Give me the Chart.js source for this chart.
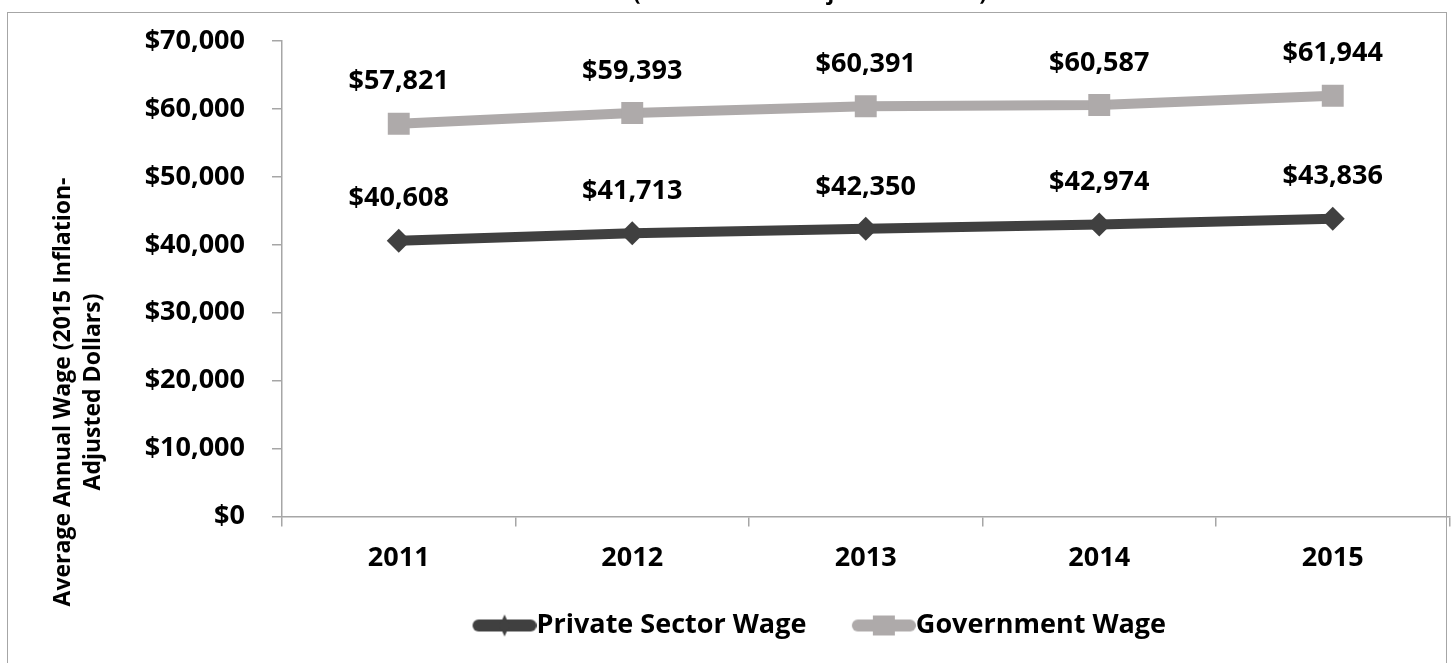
<!DOCTYPE html>
<html>
<head>
<meta charset="utf-8">
<script src="https://cdn.jsdelivr.net/npm/chart.js@4"></script>
<style>
  html, body { margin: 0; padding: 0; background: #fff; overflow: hidden; }
  #frame { position: absolute; left: 7px; top: 12px; width: 1438px; height: 700px; border: 1.5px solid #a6a6a6; }
  #wrap { position: absolute; left: 0; top: 0; width: 1455px; height: 663px; overflow: hidden; }
</style>
</head>
<body>
<div id="frame"></div>
<div id="wrap"><canvas id="wageChart" width="1465" height="663"></canvas></div>
<script>
// Chart data
const years = ["2011", "2012", "2013", "2014", "2015"];
const privateWage = [40608, 41713, 42350, 42974, 43836];
const governmentWage = [57821, 59393, 60391, 60587, 61944];
const yTicks = [0, 10000, 20000, 30000, 40000, 50000, 60000, 70000];

const FONT = "'Open Sans', 'DejaVu Sans', sans-serif";
const darkColor = "#404040";
const grayColor = "#aeaaaa";
const axisColor = "#a6a6a6";
const LEGEND_BOX = 66;
const LEGEND_FONT = 27;
const PAD_LEFT = 166;

const money = (v) => "$" + v.toLocaleString("en-US");

// legend swatch: thick line with the marker in the middle, running up to the text
function legendSwatch(color, shape) {
    const c = document.createElement("canvas");
    c.width = LEGEND_BOX + LEGEND_FONT;
    c.height = 26;
    const g = c.getContext("2d");
    const x0 = c.width - 64, x1 = c.width;
    g.strokeStyle = color;
    g.fillStyle = color;
    g.lineWidth = 12;
    g.lineCap = "round";
    g.beginPath();
    g.moveTo(x0 + 6, 13);
    g.lineTo(x1 - 6, 13);
    g.stroke();
    const mid = (x0 + x1) / 2;
    g.beginPath();
    if (shape === "square") {
        g.rect(mid - 11, 3, 22, 20);
    } else {
        g.moveTo(mid, 2);
        g.lineTo(mid + 5, 13);
        g.lineTo(mid, 24);
        g.lineTo(mid - 5, 13);
        g.closePath();
    }
    g.fill();
    return c;
}

// values written above each point
const valueLabels = {
    id: "valueLabels",
    afterDatasetsDraw(chart) {
        const ctx = chart.ctx;
        ctx.save();
        ctx.font = "bold 27px " + FONT;
        ctx.fillStyle = "#000";
        ctx.textAlign = "center";
        ctx.textBaseline = "middle";
        chart.data.datasets.forEach((ds, i) => {
            chart.getDatasetMeta(i).data.forEach((pt, j) => {
                ctx.fillText(money(ds.data[j]), pt.x, pt.y - 42);
            });
        });
        ctx.restore();
    }
};

// let the y tick labels use the space left of the axis box (the padding keeps the legend centred like the original)
const widenYLabels = {
    id: "widenYLabels",
    afterLayout(chart) {
        chart.scales.y.left = 0;
    }
};

// y axis title (two lines) and the clipped chart title at the very top
const extraText = {
    id: "extraText",
    afterDraw(chart) {
        const ctx = chart.ctx;
        ctx.save();
        ctx.fillStyle = "#000";
        ctx.textAlign = "center";
        ctx.textBaseline = "middle";
        ctx.font = "bold 23px " + FONT;
        ctx.translate(0, 392);
        ctx.rotate(-Math.PI / 2);
        ctx.fillText("Average Annual Wage (2015 Inflation-", 0, 63);
        ctx.fillText("Adjusted Dollars)", 0, 93);
        ctx.restore();

        ctx.save();
        ctx.fillStyle = "#000";
        ctx.textAlign = "center";
        ctx.textBaseline = "alphabetic";
        ctx.font = "bold 22px " + FONT;
        ctx.fillText("(2015 Inflation-Adjusted Dollars)", 810, 0);
        ctx.restore();
    }
};

document.addEventListener("DOMContentLoaded", () => {
    const ctx = document.getElementById("wageChart").getContext("2d");
    new Chart(ctx, {
        type: "line",
        data: {
            labels: years,
            datasets: [
                {
                    label: "Private Sector Wage",
                    data: privateWage,
                    borderColor: darkColor,
                    backgroundColor: darkColor,
                    borderWidth: 10,
                    pointStyle: "rectRot",
                    pointRadius: 12,
                    pointHoverRadius: 12,
                    pointBorderWidth: 0,
                    tension: 0
                },
                {
                    label: "Government Wage",
                    data: governmentWage,
                    borderColor: grayColor,
                    backgroundColor: grayColor,
                    borderWidth: 10,
                    pointStyle: "rect",
                    pointRadius: 15.5,
                    pointHoverRadius: 15.5,
                    pointBorderWidth: 0,
                    tension: 0
                }
            ]
        },
        options: {
            responsive: false,
            animation: false,
            layout: { padding: { left: PAD_LEFT, right: 8, top: 41, bottom: 14 } },
            plugins: {
                title: { display: false },
                tooltip: { enabled: false },
                legend: {
                    position: "bottom",
                    labels: {
                        usePointStyle: true,
                        pointStyleWidth: LEGEND_BOX,
                        padding: 30,
                        color: "#000",
                        font: { family: FONT, size: LEGEND_FONT, weight: "bold" },
                        generateLabels(chart) {
                            return chart.data.datasets.map((ds, i) => ({
                                text: ds.label,
                                fillStyle: ds.borderColor,
                                strokeStyle: ds.borderColor,
                                lineWidth: 0,
                                pointStyle: legendSwatch(ds.borderColor, i === 0 ? "diamond" : "square"),
                                datasetIndex: i,
                                hidden: false
                            }));
                        }
                    }
                }
            },
            scales: {
                x: {
                    offset: true,
                    afterFit(scale) {
                        scale.height -= 9;
                        scale.paddingLeft = 0;
                        scale.paddingRight = 0;
                    },
                    grid: {
                        offset: true,
                        drawOnChartArea: false,
                        drawTicks: true,
                        tickLength: 10,
                        color: axisColor,
                        lineWidth: 1.5
                    },
                    border: { display: true, color: axisColor, width: 1.5 },
                    ticks: {
                        color: "#000",
                        padding: 16,
                        font: { family: FONT, size: 27, weight: "bold" }
                    }
                },
                y: {
                    min: 0,
                    max: 70000,
                    afterFit(scale) {
                        scale.width = 282 - PAD_LEFT;
                        scale.paddingTop = 0;
                        scale.paddingBottom = 0;
                    },
                    afterBuildTicks(scale) { scale.ticks = yTicks.map((v) => ({ value: v })); },
                    grid: {
                        drawOnChartArea: false,
                        drawTicks: true,
                        tickLength: 10,
                        color: axisColor,
                        lineWidth: 1.5
                    },
                    border: { display: true, color: axisColor, width: 1.5 },
                    ticks: {
                        color: "#000",
                        padding: 27,
                        font: { family: FONT, size: 27, weight: "bold" },
                        callback: (v) => money(v)
                    }
                }
            }
        },
        plugins: [valueLabels, widenYLabels, extraText]
    });
});
</script>
</body>
</html>
